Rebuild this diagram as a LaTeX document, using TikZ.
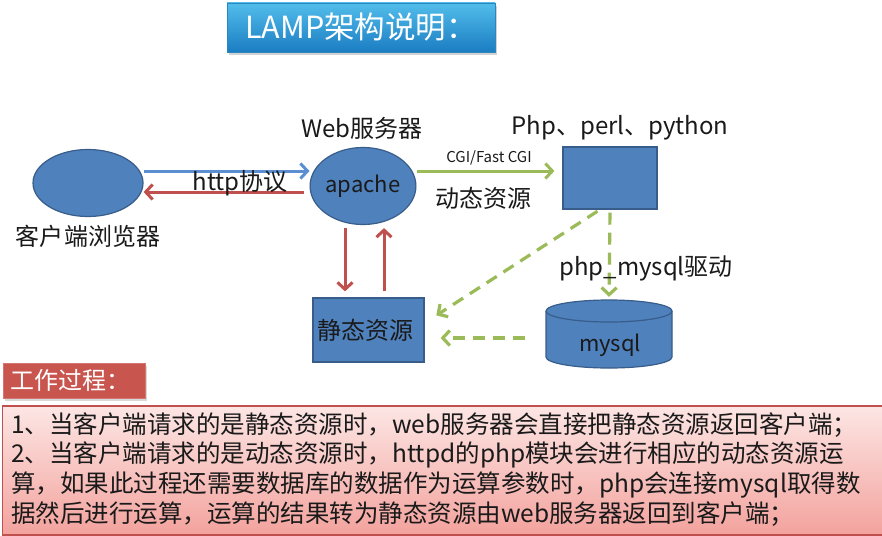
\documentclass[tikz,border=0pt]{standalone}
\usepackage{fontspec}
\setmainfont{Noto Sans CJK SC}
\usetikzlibrary{shapes.geometric,arrows.meta,calc,shadows}
\definecolor{nodeblue}{HTML}{4F81BD}
\definecolor{nodeedge}{HTML}{385D8A}
\definecolor{arrblue}{HTML}{5B8FD2}
\definecolor{arrred}{HTML}{C0504D}
\definecolor{arrgreen}{HTML}{9BBB59}
\definecolor{titletop}{HTML}{52BDEB}
\definecolor{titlebot}{HTML}{1B7DC2}
\definecolor{titleedge}{HTML}{2A86BD}
\definecolor{workred}{HTML}{C9554F}
\definecolor{pinktop}{HTML}{FCE6E4}
\definecolor{pinkbot}{HTML}{F3A29D}
\definecolor{txt}{HTML}{1A1A1A}
\tikzset{
  bluenode/.style={fill=nodeblue, draw=nodeedge, line width=1.2pt, inner sep=0pt},
  lbl/.style={font=\fontsize{24}{28}\selectfont, text=txt, inner sep=0pt},
  solidarr/.style={line width=3pt, -{Straight Barb[length=7pt,width=15pt,line width=3pt]}},
  dasharr/.style={arrgreen, line width=3.2pt, dash pattern=on 12pt off 8pt, -{Straight Barb[length=7pt,width=15pt,line width=3.2pt]}},
}
\begin{document}
\begin{tikzpicture}[x=1pt,y=-1pt]
\useasboundingbox (0,0) rectangle (882,535);
\fill[white] (0,0) rectangle (882,535);

% title
\node[drop shadow={shadow xshift=2pt, shadow yshift=-3pt, fill=black!35}, top color=titletop, bottom color=titlebot, draw=titleedge, line width=0.8pt,
  minimum width=268pt, minimum height=49pt, inner sep=0pt, text=white,
  font=\fontsize{30.5}{34}\selectfont] (title) at (361,27.5) {LAMP架构说明：};

% nodes
\node[bluenode, ellipse, minimum width=110pt, minimum height=67pt] (client) at (88,183) {};
\node[lbl] (clientlbl) at (88,236) {客户端浏览器};
\node[bluenode, ellipse, minimum width=104pt, minimum height=77pt, font=\fontsize{22}{26}\selectfont, text=txt] (apache) at (363,186) {apache};
\node[lbl] (weblbl) at (362,128) {Web服务器};
\node[bluenode, rectangle, minimum width=94pt, minimum height=62pt] (script) at (610,178) {};
\node[lbl] (langlbl) at (620,128) {Php、perl、python};
\node[bluenode, rectangle, minimum width=111pt, minimum height=64pt, font=\fontsize{24}{28}\selectfont, text=txt] (static) at (368.5,330) {\hspace*{-6pt}静态资源};

% mysql cylinder
\node[minimum width=126pt, minimum height=68pt, inner sep=0pt] (mysql) at (609,334) {};
\filldraw[fill=nodeblue, draw=nodeedge, line width=1.2pt]
  (546,311) -- (546,357) arc[start angle=180, end angle=0, x radius=63, y radius=11]
  -- (672,311) arc[start angle=0, end angle=-180, x radius=63, y radius=11] -- cycle;
\draw[nodeedge, line width=1.2pt] (546,311) arc[start angle=180, end angle=0, x radius=63, y radius=11];
\node[font=\fontsize{22}{26}\selectfont, text=txt, inner sep=0pt] (mysqllbl) at (610,345) {mysql};

% connectors
\draw[solidarr, arrblue] (client.east |- 0,171) -- (apache.west |- 0,171);
\draw[solidarr, arrred] ($(apache.west |- 0,192)+(-5,0)$) -- (client.east |- 0,192);
\node[lbl] (httplbl) at (240,183) {http协议};
\draw[solidarr, arrgreen, shorten >=8pt] (apache.east |- 0,171) -- (script.west |- 0,171);
\node[font=\fontsize{15}{18}\selectfont, text=txt, inner sep=0pt] (cgilbl) at (489,158) {CGI/Fast CGI};
\node[lbl] (dynlbl) at (483,198) {动态资源};

\draw[solidarr, arrred, shorten <=3pt, shorten >=6pt] ($(apache.south)+(-18,0)$) -- ($(static.north)+(-23.5,0)$);
\draw[solidarr, arrred, shorten <=6pt, shorten >=3pt] ($(static.north)+(15.5,0)$) -- ($(apache.south)+(21,0)$);

\draw[dasharr, shorten <=3pt, shorten >=3pt] (script.south) -- (mysql.north);
\node[lbl] (drvlbl) at (646,268) {php\_mysql驱动};
\draw[dasharr, shorten <=3pt, shorten >=14pt] ($(script.south)+(-10,0)$) -- ($(static.east)+(0,-7)$);
\draw[dasharr, shorten <=21pt, shorten >=16pt] (mysql.west |- 0,338) -- (static.east |- 0,338);

% work process
\node[drop shadow={shadow xshift=2pt, shadow yshift=-3pt, fill=black!30}, fill=workred, draw=workred!80!white, line width=0.8pt,
  minimum width=142pt, minimum height=35pt, inner sep=0pt, text=white,
  font=\fontsize{24}{28}\selectfont] (work) at (74,380.5) {\hspace*{-8pt}工作过程：};

\node[top color=pinktop, bottom color=pinkbot, draw=arrred, line width=1.2pt,
  minimum width=880pt, minimum height=129pt, inner sep=0pt] (desc) at (442.5,470.5) {};
\begin{scope}[every node/.style={anchor=west, font=\fontsize{24.5}{28}\selectfont, text=txt, inner sep=0pt}]
\node (l1) at (11,425) {1、当客户端请求的是静态资源时，web服务器会直接把静态资源返回客户端；};
\node (l2) at (11,455) {2、当客户端请求的是动态资源时，httpd的php模块会进行相应的动态资源运};
\node (l3) at (11,485) {算，如果此过程还需要数据库的数据作为运算参数时，php会连接mysql取得数};
\node (l4) at (11,514) {据然后进行运算，运算的结果转为静态资源由web服务器返回到客户端；};
\end{scope}
\end{tikzpicture}
\end{document}
